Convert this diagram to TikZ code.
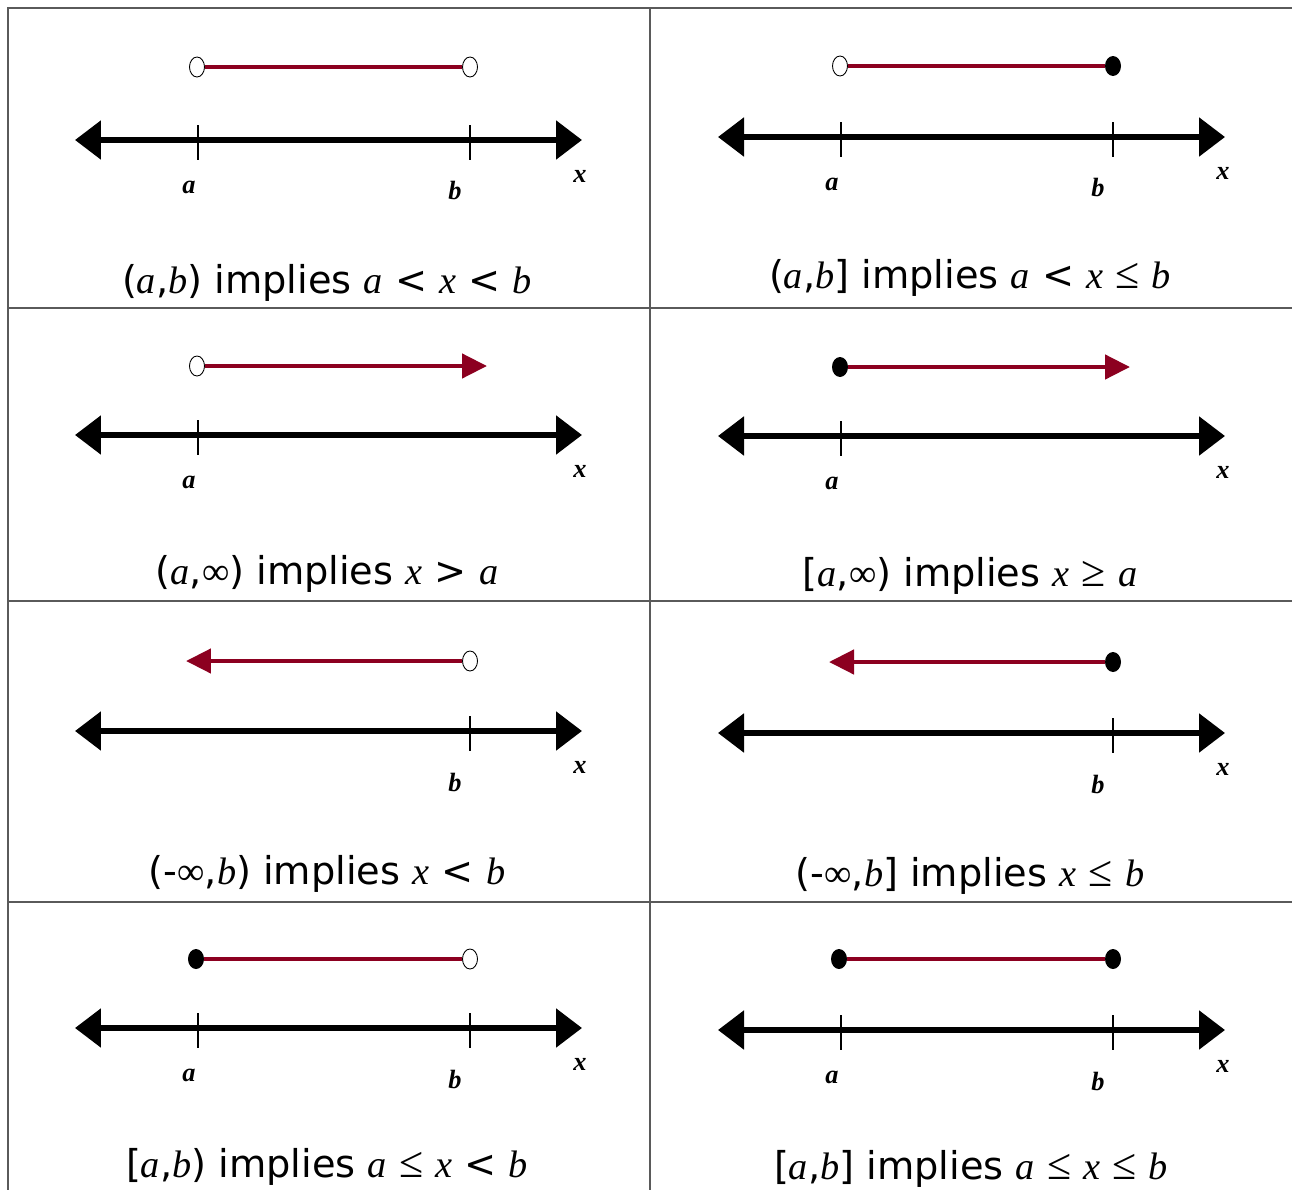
\documentclass[tikz,border=0pt]{standalone}
\usepackage{fontspec}
\setmainfont{DejaVu Sans}
\newfontfamily\serifvar{Liberation Serif}
\usetikzlibrary{arrows.meta,shapes.geometric}

\definecolor{intred}{RGB}{140,0,32}
\definecolor{gridgray}{RGB}{90,90,90}

% variables in captions and axis labels
\newcommand{\mv}[1]{{\serifvar\itshape #1}}
\newcommand{\lbl}[1]{{\serifvar\bfseries\itshape #1}}
\newcommand{\rel}[1]{{\serifvar\fontsize{25}{25}\selectfont #1}}

\tikzset{
  numaxis/.style={line width=3.1pt,
    {Triangle[length=0.52cm,width=0.76cm]}-{Triangle[length=0.52cm,width=0.76cm]}},
  tickmark/.style={line width=0.8pt},
  interval/.style={draw=intred, line width=2.6pt},
  rayhead/.style={-{Triangle[length=0.5cm,width=0.48cm]}},
  opendot/.style={ellipse, draw, line width=0.5pt, fill=white,
    minimum width=0.3cm, minimum height=0.4cm, inner sep=0pt},
  closeddot/.style={ellipse, fill=black,
    minimum width=0.32cm, minimum height=0.4cm, inner sep=0pt},
  ptlabel/.style={font=\fontsize{15}{15}\selectfont, inner sep=0pt},
  caption/.style={font=\fontsize{21.8}{22}\selectfont, anchor=base, inner sep=0pt},
  gridline/.style={draw=gridgray, line width=0.8pt}
}

% axis of one cell: prefix, x shift, axis y
\newcommand{\numline}[3]{%
  \coordinate (#1L) at (75+#2,#3);
  \coordinate (#1R) at (582+#2,#3);
  \draw[numaxis] (#1L) -- (#1R);
  \node[ptlabel] (#1x) at (580+#2,#3+36) {\lbl{x}};
}
\newcommand{\tickA}[3]{%
  \draw[tickmark] (198+#2,#3-15) -- (198+#2,#3+20);
  \node[ptlabel] (#1la) at (189+#2,#3+47) {\lbl{a}};
}
\newcommand{\tickB}[3]{%
  \draw[tickmark] (470+#2,#3-15) -- (470+#2,#3+20);
  \node[ptlabel] (#1lb) at (455+#2,#3+51) {\lbl{b}};
}

\begin{document}
\begin{tikzpicture}[x=0.02cm,y=-0.02cm]
\useasboundingbox (0,0) rectangle (1292,1190);

% table
\draw[gridline] (8,1190) -- (8,8) -- (1292,8);
\draw[gridline] (650,8) -- (650,1190);
\foreach \ry in {308,601,902}
  \draw[gridline] (8,\ry) -- (1292,\ry);

% (a,b)
\numline{c1}{0}{140}
\tickA{c1}{0}{140}
\tickB{c1}{0}{140}
\node[opendot] (c1a) at (197,67) {};
\node[opendot] (c1b) at (470,67) {};
\draw[interval] (c1a) -- (c1b);
\node[caption] (t1) at (327,293) {(\mv{a},\mv{b}) implies \mv{a} < \mv{x} < \mv{b}};

% (a,b]
\numline{c2}{643}{137}
\tickA{c2}{643}{137}
\tickB{c2}{643}{137}
\node[opendot] (c2a) at (840,66) {};
\node[closeddot] (c2b) at (1113,66) {};
\draw[interval] (c2a) -- (c2b);
\node[caption] (t2) at (970,288) {(\mv{a},\mv{b}] implies \mv{a} < \mv{x} \rel{≤} \mv{b}};

% (a,inf)
\numline{c3}{0}{435}
\tickA{c3}{0}{435}
\node[opendot] (c3a) at (197,366) {};
\coordinate (c3e) at (487,366);
\draw[interval, rayhead] (c3a) -- (c3e);
\node[caption] (t3) at (327,584) {(\mv{a},{\serifvar∞}) implies \mv{x} > \mv{a}};

% [a,inf)
\numline{c4}{643}{436}
\tickA{c4}{643}{436}
\node[closeddot] (c4a) at (840,367) {};
\coordinate (c4e) at (1130,367);
\draw[interval, rayhead] (c4a) -- (c4e);
\node[caption] (t4) at (970,586) {[\mv{a},{\serifvar∞}) implies \mv{x} \rel{≥} \mv{a}};

% (-inf,b)
\numline{c5}{0}{731}
\tickB{c5}{0}{731}
\node[opendot] (c5b) at (470,661) {};
\coordinate (c5e) at (186,661);
\draw[interval, rayhead] (c5b) -- (c5e);
\node[caption] (t5) at (327,884) {(-{\serifvar∞},\mv{b}) implies \mv{x} < \mv{b}};

% (-inf,b]
\numline{c6}{643}{733}
\tickB{c6}{643}{733}
\node[closeddot] (c6b) at (1113,662) {};
\coordinate (c6e) at (829,662);
\draw[interval, rayhead] (c6b) -- (c6e);
\node[caption] (t6) at (970,886) {(-{\serifvar∞},\mv{b}] implies \mv{x} \rel{≤} \mv{b}};

% [a,b)
\numline{c7}{0}{1028}
\tickA{c7}{0}{1028}
\tickB{c7}{0}{1028}
\node[closeddot] (c7a) at (196,959) {};
\node[opendot] (c7b) at (470,959) {};
\draw[interval] (c7a) -- (c7b);
\node[caption] (t7) at (327,1177) {[\mv{a},\mv{b}) implies \mv{a} \rel{≤} \mv{x} < \mv{b}};

% [a,b]
\numline{c8}{643}{1030}
\tickA{c8}{643}{1030}
\tickB{c8}{643}{1030}
\node[closeddot] (c8a) at (839,959) {};
\node[closeddot] (c8b) at (1113,959) {};
\draw[interval] (c8a) -- (c8b);
\node[caption] (t8) at (971,1179) {[\mv{a},\mv{b}] implies \mv{a} \rel{≤} \mv{x} \rel{≤} \mv{b}};

\end{tikzpicture}
\end{document}
